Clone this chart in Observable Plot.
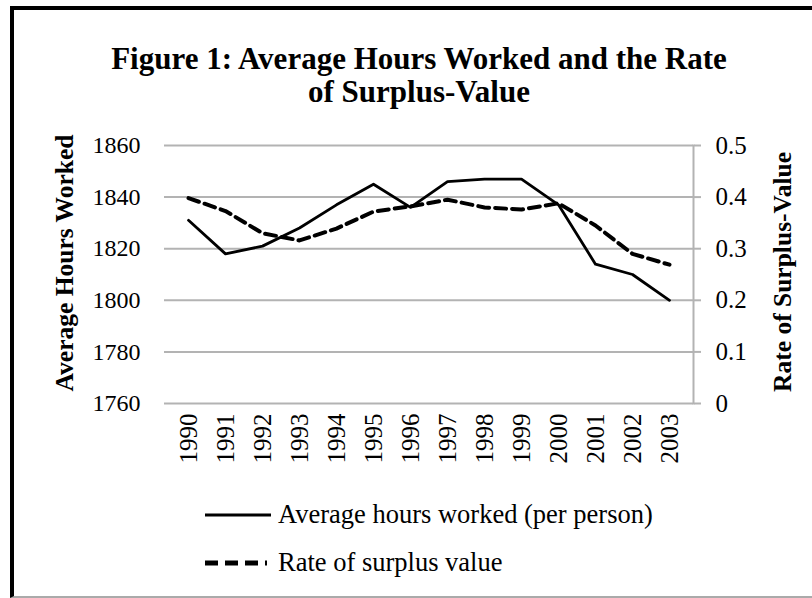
<!DOCTYPE html>
<html>
<head>
<meta charset="utf-8">
<script src="https://cdn.jsdelivr.net/npm/d3@7"></script>
<script src="https://cdn.jsdelivr.net/npm/@observablehq/plot@0.6"></script>
<style>
  html, body { margin: 0; padding: 0; background: #fff; overflow: hidden; }
  #wrap { position: relative; width: 812px; height: 598px; overflow: hidden; font-family: "Liberation Serif", "Times New Roman", serif; color: #000; }
  #border { position: absolute; left: 10px; top: 6px; width: 820px; height: 592px; box-sizing: border-box;
            border-left: 4px solid #000; border-top: 4px solid #000; border-bottom: 2px solid #aaa; }
  #title { position: absolute; left: 0; width: 838px; top: 42px; text-align: center; font-weight: bold; font-size: 31px; line-height: 33px; }
  .ytitle { position: absolute; white-space: nowrap; font-weight: bold; font-size: 25.5px; line-height: 1; transform: translate(-50%, -50%) rotate(-90deg); }
  #chart { position: absolute; left: 0; top: 130px; }
  #chart svg, #chart svg text { font-family: "Liberation Serif", "Times New Roman", serif !important; }
  .leg { position: absolute; white-space: nowrap; font-size: 26.5px; line-height: 1; }
  .sw { position: absolute; }
</style>
</head>
<body>
<div id="wrap">
  <div id="border"></div>
  <div id="title">Figure 1: Average Hours Worked and the Rate<br>of Surplus-Value</div>
  <div class="ytitle" style="left:65px; top:263px;">Average Hours Worked</div>
  <div class="ytitle" style="left:783px; top:272px;">Rate of Surplus-Value</div>
  <div id="chart"></div>
  <svg class="sw" style="left:205px; top:505px;" width="70" height="20"><line x1="0" x2="66" y1="10" y2="10" stroke="#000" stroke-width="3.2"/></svg>
  <div class="leg" style="left:278px; top:501px;">Average hours worked (per person)</div>
  <svg class="sw" style="left:205px; top:553px;" width="70" height="20"><line x1="0" x2="62" y1="10" y2="10" stroke="#000" stroke-width="5" stroke-dasharray="13,7"/></svg>
  <div class="leg" style="left:278px; top:549px;">Rate of surplus value</div>
</div>
<script>
const years = ["1990","1991","1992","1993","1994","1995","1996","1997","1998","1999","2000","2001","2002","2003"];
const hoursWorked = [1831, 1818, 1821, 1828, 1837, 1845, 1836, 1846, 1847, 1847, 1837, 1814, 1810, 1800];
const surplusRate = [0.398, 0.373, 0.330, 0.316, 0.339, 0.372, 0.382, 0.395, 0.380, 0.376, 0.388, 0.345, 0.290, 0.269];
const hourTicks = [1760, 1780, 1800, 1820, 1840, 1860];
const rateTicks = [0, 0.1, 0.2, 0.3, 0.4, 0.5];

const hourDomain = [d3.min(hourTicks), d3.max(hourTicks)];
const rateDomain = [d3.min(rateTicks), d3.max(rateTicks)];
const toH = d3.scaleLinear(rateDomain, hourDomain);
const toR = toH.copy().domain(hourDomain).range(rateDomain);

const hoursData = years.map((year, i) => ({year, value: hoursWorked[i]}));
const rateData = years.map((year, i) => ({year, value: surplusRate[i]}));

const serif = "'Liberation Serif', 'Times New Roman', serif";

const chart = Plot.plot({
  width: 812,
  height: 350,
  marginTop: 15,
  marginBottom: 77,
  marginLeft: 164,
  marginRight: 119,
  style: {fontFamily: serif, fontSize: "24px", color: "#000", background: "transparent", overflow: "visible"},
  x: {type: "point", domain: years, padding: 0.5},
  y: {domain: hourDomain},
  marks: [
    Plot.ruleY(hourTicks, {stroke: "#b3b3b3", strokeWidth: 2, strokeOpacity: 1}),
    Plot.frame({anchor: "right", stroke: "#b3b3b3", strokeWidth: 2, strokeOpacity: 1}),
    Plot.axisY({anchor: "left", ticks: hourTicks, tickSize: 0, tickPadding: 24, label: null, tickFormat: d => String(d), fontFamily: serif, fontSize: 24}),
    Plot.axisY({anchor: "right", ticks: rateTicks.map(toH), tickFormat: h => String(+toR(h).toFixed(1)), tickSize: 7, tickPadding: 15, label: null, stroke: "#b3b3b3", strokeWidth: 2, strokeOpacity: 1, fill: "#000", fontFamily: serif, fontSize: 25}),
    Plot.axisX({tickRotate: -90, tickSize: 0, tickPadding: 10, label: null, fontFamily: serif, fontSize: 25}),
    Plot.line(rateData, {x: "year", y: d => toH(d.value), stroke: "#000", strokeWidth: 4, strokeDasharray: "11,6"}),
    Plot.line(hoursData, {x: "year", y: "value", stroke: "#000", strokeWidth: 2.8})
  ]
});
document.getElementById("chart").appendChild(chart);
</script>
</body>
</html>
